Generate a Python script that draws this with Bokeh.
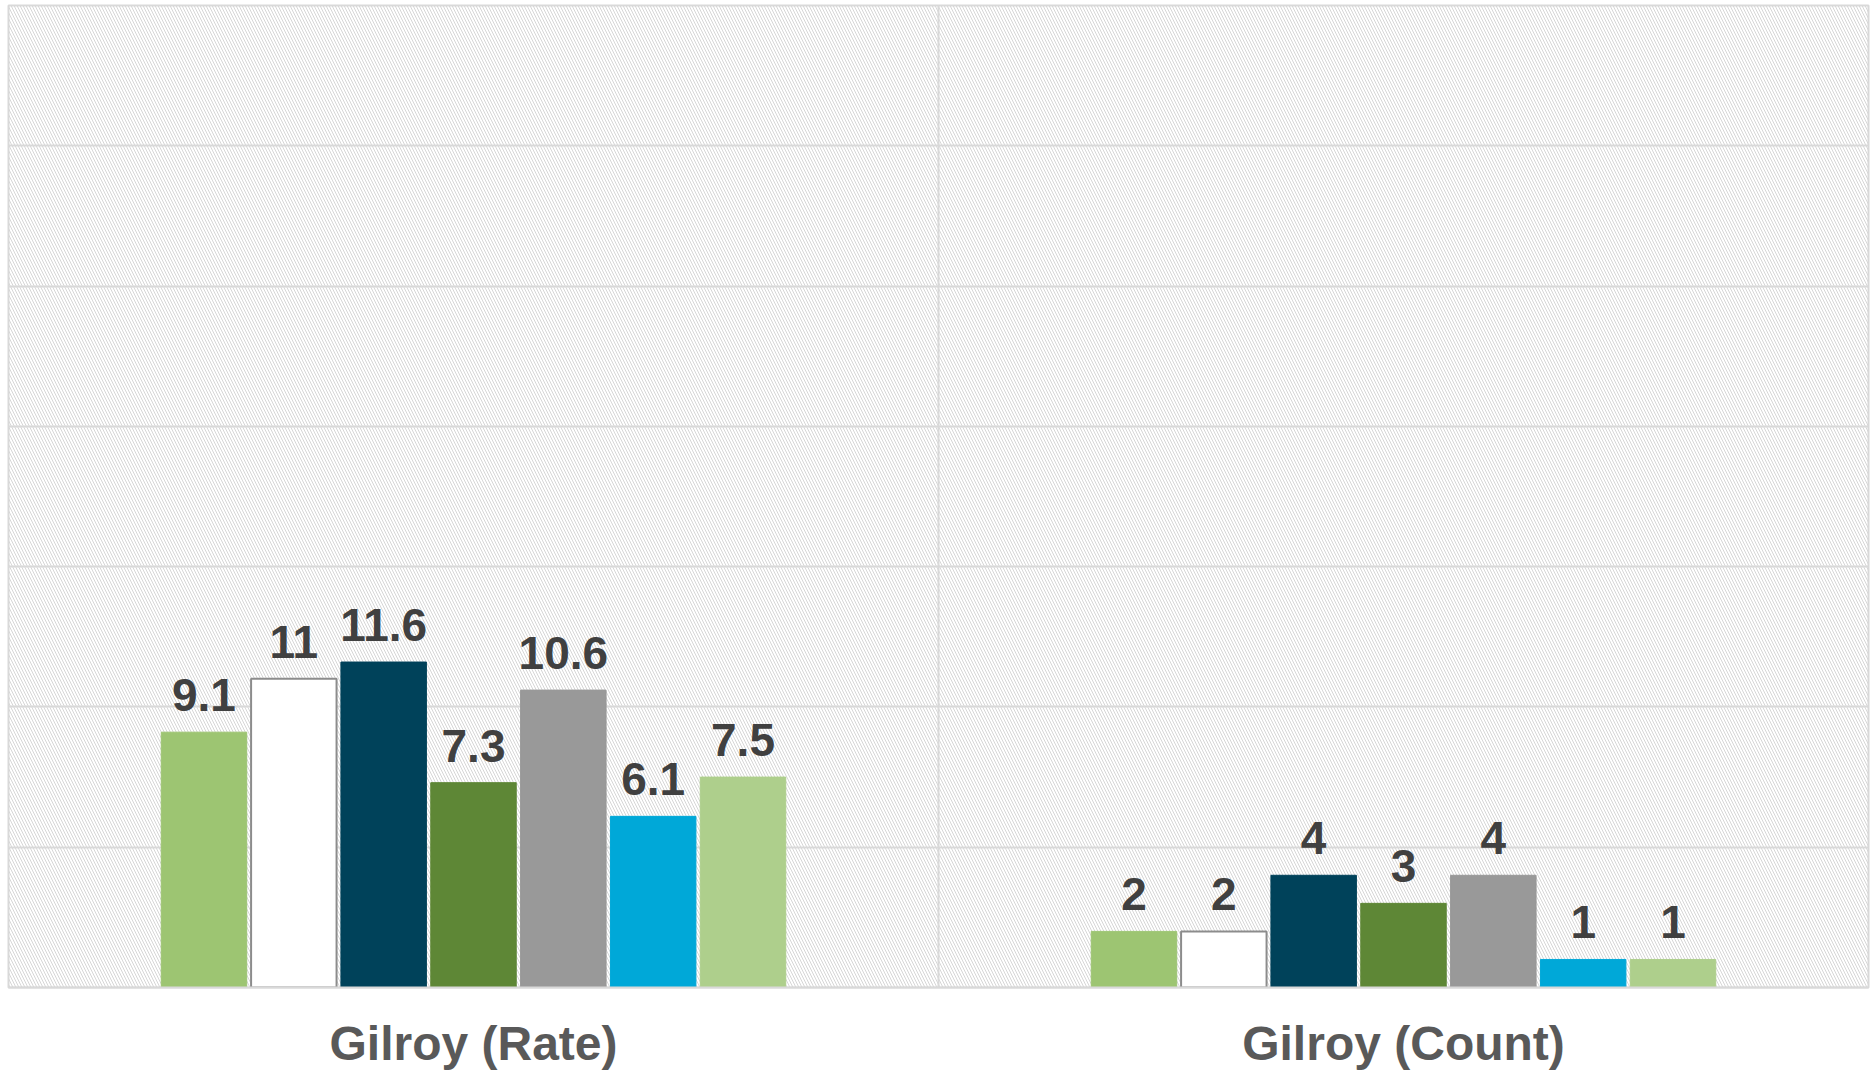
from bokeh.plotting import figure
from bokeh.models import (ColumnDataSource, FactorRange, Range1d, BoxAnnotation,
                          Span, LabelSet, SingleIntervalTicker)
from bokeh.core.properties import value
from bokeh.transform import dodge
from bokeh.embed import file_html
from bokeh.resources import INLINE

# ---- data ----
categories = ["Gilroy (Rate)", "Gilroy (Count)"]
series_names = ["S1", "S2", "S3", "S4", "S5", "S6", "S7"]
rate_values = [9.1, 11, 11.6, 7.3, 10.6, 6.1, 7.5]
count_values = [2, 2, 4, 3, 4, 1, 1]
value_labels_rate = ["9.1", "11", "11.6", "7.3", "10.6", "6.1", "7.5"]
value_labels_count = ["2", "2", "4", "3", "4", "1", "1"]

colors = ["#9DC572", "#FFFFFF", "#00425A", "#5E8736", "#999999", "#00A8D8", "#AECF8C"]
outline = ["#9DC572", "#8C8C8C", "#00425A", "#5E8736", "#999999", "#00A8D8", "#AECF8C"]

FRAME_W = 1860
LEFT = 8
TOP = 5
BOTTOM = 84
HEIGHT = 1072

p = figure(x_range=FactorRange(factors=categories, range_padding=0),
           y_range=Range1d(0, 35),
           width=LEFT + FRAME_W + 5, height=HEIGHT,
           output_backend="svg", toolbar_location=None,
           min_border_left=LEFT, min_border_right=5, min_border_top=TOP,
           min_border_bottom=BOTTOM)

p.background_fill_color = "#FFFFFF"
p.border_fill_color = "#FFFFFF"
p.outline_line_color = "#D9D9D9"
p.outline_line_width = 2

# hatched background
p.add_layout(BoxAnnotation(fill_alpha=0, line_alpha=0, hatch_pattern="\\",
                           hatch_color="#D6D6D6", hatch_scale=6, hatch_weight=1,
                           level="image"))

# grid
p.xgrid.visible = False
p.ygrid.ticker = SingleIntervalTicker(interval=5)
p.ygrid.grid_line_color = "#D9D9D9"
p.ygrid.grid_line_width = 2
p.add_layout(Span(location=1.0, dimension="height", line_color="#D9D9D9", line_width=2,
                  level="underlay"))

p.yaxis.visible = False

ax = p.xaxis[0]
ax.axis_line_color = "#D9D9D9"
ax.axis_line_width = 2
ax.major_tick_line_color = None
ax.minor_tick_line_color = None
ax.major_tick_out = 0
ax.major_label_standoff = 29
ax.major_label_text_font = "Liberation Sans"
ax.major_label_text_font_style = "bold"
ax.major_label_text_font_size = "48px"
ax.major_label_text_color = "#595959"

period = 0.0966
bar_w = 0.0919
n = len(series_names)
for i in range(n):
    src = ColumnDataSource(dict(cat=categories,
                                val=[rate_values[i], count_values[i]],
                                lab=[value_labels_rate[i], value_labels_count[i]]))
    off = (i - (n - 1) / 2) * period
    p.vbar(x=dodge("cat", off, range=p.x_range), top="val", width=bar_w, bottom=0,
           source=src, fill_color=colors[i], line_color=outline[i],
           line_width=2 if i == 1 else 1)
    p.add_layout(LabelSet(x=dodge("cat", off, range=p.x_range), y="val", text="lab",
                          source=src, y_offset=21, text_align="center",
                          text_baseline="alphabetic", text_font=value("Liberation Sans"),
                          text_font_style="bold", text_font_size="46px",
                          text_color="#404040"))

open("out.html", "w").write(file_html(p, INLINE))
